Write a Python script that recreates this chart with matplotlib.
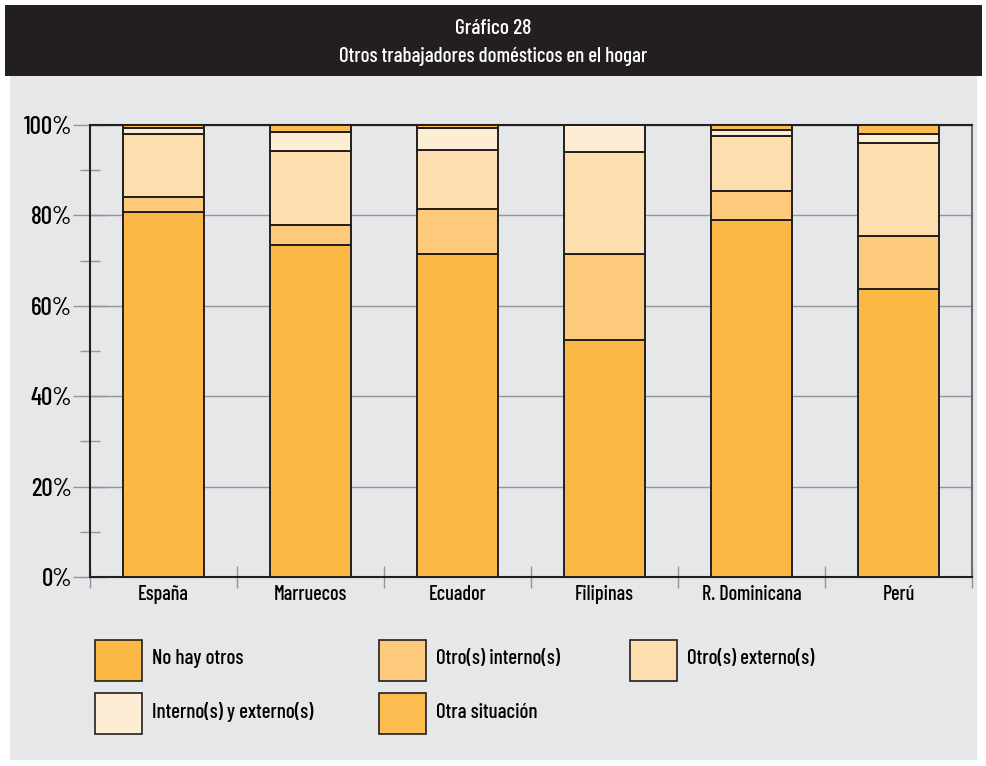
import matplotlib
matplotlib.use('Agg')
import matplotlib.pyplot as plt
from matplotlib.patches import Rectangle
from matplotlib.ticker import MultipleLocator, FixedLocator
import numpy as np

plt.rcParams['font.family'] = ['Barlow Condensed', 'DejaVu Sans']
plt.rcParams['font.weight'] = 'medium'

# Data (percent of households)
countries = ['España', 'Marruecos', 'Ecuador', 'Filipinas', 'R. Dominicana', 'Perú']
series = ['No hay otros', 'Otro(s) interno(s)', 'Otro(s) externo(s)',
          'Interno(s) y externo(s)', 'Otra situación']
no_hay_otros = [80.8, 73.5, 71.5, 52.4, 78.9, 63.7]
otros_internos = [3.3, 4.4, 9.9, 19.1, 6.6, 11.7]
otros_externos = [13.8, 16.3, 13.1, 22.5, 12.1, 20.6]
internos_y_externos = [1.4, 4.3, 4.8, 6.0, 1.3, 1.9]
otra_situacion = [0.7, 1.5, 0.7, 0.0, 1.1, 2.1]
values = [no_hay_otros, otros_internos, otros_externos, internos_y_externos, otra_situacion]
colors = ['#fbb845', '#fdca7b', '#fddeae', '#fdedd5', '#fcbc50']

edge = '#231f20'
panel = '#e6e7e9'

fig = plt.figure(figsize=(9.87, 7.66), dpi=100)
fig.patch.set_facecolor('white')

# header band and grey panel
W, H = 987, 766
fig.add_artist(Rectangle((5 / W, 1 - 76 / H), 977 / W, 71 / H, transform=fig.transFigure,
                         facecolor=edge, edgecolor='none', zorder=0))
fig.add_artist(Rectangle((10 / W, 1 - 760 / H), 967 / W, 684 / H, transform=fig.transFigure,
                         facecolor=panel, edgecolor='none', zorder=0))
fig.text(0.5, 1 - 28 / H, 'Gráfico 28', color='white', ha='center', va='center', fontsize=15.5)
fig.text(0.5, 1 - 57 / H, 'Otros trabajadores domésticos en el hogar', color='white',
         ha='center', va='center', fontsize=15)

ax = fig.add_axes([90 / W, 1 - 577 / H, 882 / W, 452 / H])
ax.set_facecolor(panel)

x = np.arange(len(countries))
bottom = np.zeros(len(countries))
for vals, col, name in zip(values, colors, series):
    ax.bar(x, vals, width=0.55, bottom=bottom, color=col, edgecolor=edge,
           linewidth=1.4, label=name, zorder=3)
    bottom += np.array(vals)

ax.set_xlim(-0.5, len(countries) - 0.5)
ax.set_ylim(0, 100)

ax.yaxis.set_major_locator(MultipleLocator(20))
ax.yaxis.set_minor_locator(MultipleLocator(10))
ax.set_yticklabels([f'{int(v)}%' for v in ax.get_yticks()])
ax.tick_params(axis='y', which='major', direction='inout', length=24, width=1,
               color='#939598', labelsize=18, pad=1)
ax.tick_params(axis='y', which='minor', direction='inout', length=15, width=1,
               color='#939598')
ax.grid(axis='y', which='major', color='#939598', linewidth=1, zorder=0)

ax.set_xticks(x)
ax.set_xticklabels(countries)
ax.xaxis.set_minor_locator(FixedLocator(np.arange(-0.5, len(countries), 1.0)))
ax.tick_params(axis='x', which='major', length=0, labelsize=14.5, pad=6)
ax.tick_params(axis='x', which='minor', direction='inout', length=16, width=1,
               color='#939598')

for s in ['left', 'bottom', 'top']:
    ax.spines[s].set_color(edge)
    ax.spines[s].set_linewidth(1.5)
ax.spines['right'].set_color('#6d6e71')
ax.spines['right'].set_linewidth(1.5)

# legend drawn as boxes in figure space
legend_pos = [(95, 640), (379, 640), (630, 640), (95, 693), (379, 693)]
for (px, py), col, name in zip(legend_pos, colors, series):
    fig.add_artist(Rectangle((px / W, 1 - (py + 41) / H), 47 / W, 41 / H,
                             transform=fig.transFigure, facecolor=col,
                             edgecolor=edge, linewidth=1.2))
    fig.text((px + 57) / W, 1 - (py + 19) / H, name, ha='left', va='center', fontsize=15)

fig.savefig('out.png', dpi=100)
